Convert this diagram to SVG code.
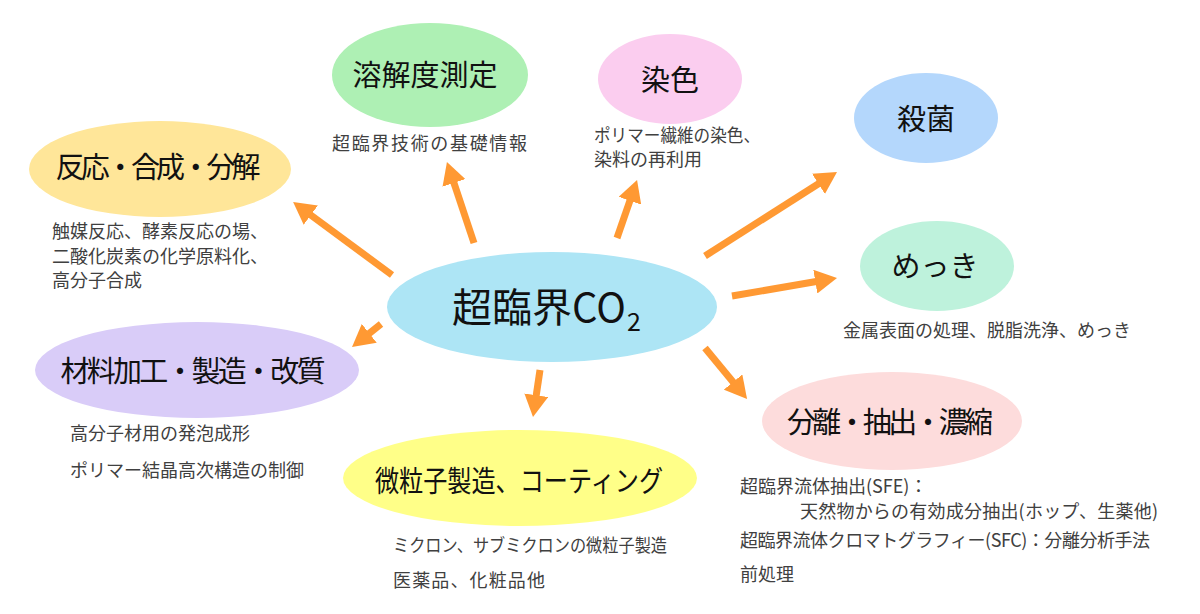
<svg xmlns="http://www.w3.org/2000/svg" width="1200" height="614" viewBox="0 0 1200 614">
<style>
text{font-family:"Noto Sans CJK JP","Noto Sans",sans-serif}
.t{font-size:29px;fill:#111;text-anchor:middle}
.s{font-size:18px;fill:#404040}
.a{stroke:#FF9933;stroke-width:7;fill:none;marker-end:url(#ah)}
</style>
<defs>
<marker id="ah" viewBox="0 0 22 24" refX="1" refY="12" markerWidth="22" markerHeight="24" markerUnits="userSpaceOnUse" orient="auto">
<path d="M0,0 L22,12 L0,24 z" fill="#FF9933"/>
</marker>
</defs>
<g id="connectors">
<line class="a" x1="392" y1="275" x2="310" y2="214.5"/>
<line class="a" x1="474" y1="243" x2="453.6" y2="181.9"/>
<line class="a" x1="617" y1="238" x2="630.2" y2="199.8"/>
<line class="a" x1="705" y1="256" x2="819.3" y2="183.3"/>
<line class="a" x1="732" y1="296" x2="816.3" y2="281.5"/>
<line class="a" x1="705" y1="348" x2="733.7" y2="382.8"/>
<line class="a" x1="381" y1="324" x2="368.5" y2="333.9"/>
<line class="a" x1="540" y1="370" x2="536.1" y2="396.2"/>
</g>
<g id="center">
<ellipse cx="552" cy="307" rx="165" ry="55" fill="#ADE5F5"/>
<text x="452" y="322" style="font-size:40px;fill:#111">超臨界CO<tspan dx="1" dy="9" style="font-size:25px">2</tspan></text>
</g>
<g id="hanno">
<ellipse cx="160" cy="169" rx="131" ry="48" fill="#FFE699"/>
<text class="t" x="158" y="178" textLength="205" lengthAdjust="spacing">反応・合成・分解</text>
<text class="s" x="52" y="238">触媒反応、酵素反応の場、</text>
<text class="s" x="52" y="263">二酸化炭素の化学原料化、</text>
<text class="s" x="52" y="287">高分子合成</text>
</g>
<g id="yokai">
<ellipse cx="430" cy="75" rx="98" ry="52" fill="#AEF0B4"/>
<text class="t" x="425" y="86">溶解度測定</text>
<text class="s" x="332" y="150" textLength="195">超臨界技術の基礎情報</text>
</g>
<g id="senshoku">
<ellipse cx="670" cy="79" rx="72" ry="45" fill="#FBCDEF"/>
<text class="t" x="670" y="91">染色</text>
<text class="s" x="594" y="142" textLength="166" lengthAdjust="spacingAndGlyphs">ポリマー繊維の染色、</text>
<text class="s" x="594" y="166">染料の再利用</text>
</g>
<g id="sakkin">
<ellipse cx="926" cy="118" rx="72" ry="45" fill="#B4D7FC"/>
<text class="t" x="926" y="130">殺菌</text>
</g>
<g id="mekki">
<ellipse cx="937" cy="266" rx="77" ry="45" fill="#BEF2DC"/>
<text class="t" x="935" y="277">めっき</text>
<text class="s" x="843" y="337">金属表面の処理、脱脂洗浄、めっき</text>
</g>
<g id="zairyo">
<ellipse cx="197" cy="370" rx="162" ry="48" fill="#D9CCF8"/>
<text class="t" x="193" y="382" textLength="265" lengthAdjust="spacing">材料加工・製造・改質</text>
<text class="s" x="70" y="440">高分子材用の発泡成形</text>
<text class="s" x="70" y="477">ポリマー結晶高次構造の制御</text>
</g>
<g id="biryushi">
<ellipse cx="520" cy="478" rx="177" ry="48" fill="#FFFF88"/>
<text class="t" x="519" y="492" textLength="288" lengthAdjust="spacingAndGlyphs">微粒子製造、コーティング</text>
<text class="s" x="393" y="552" textLength="274" lengthAdjust="spacingAndGlyphs">ミクロン、サブミクロンの微粒子製造</text>
<text class="s" x="393" y="587" textLength="152">医薬品、化粧品他</text>
</g>
<g id="bunri">
<ellipse cx="892" cy="421" rx="130" ry="49" fill="#FDDCDC"/>
<text class="t" x="890" y="433" textLength="206" lengthAdjust="spacing">分離・抽出・濃縮</text>
<text class="s" x="740" y="493">超臨界流体抽出(SFE)：</text>
<text class="s" x="800" y="518" textLength="358">天然物からの有効成分抽出(ホップ、生薬他)</text>
<text class="s" x="740" y="547" textLength="410">超臨界流体クロマトグラフィー(SFC)：分離分析手法</text>
<text class="s" x="740" y="581">前処理</text>
</g>
</svg>
